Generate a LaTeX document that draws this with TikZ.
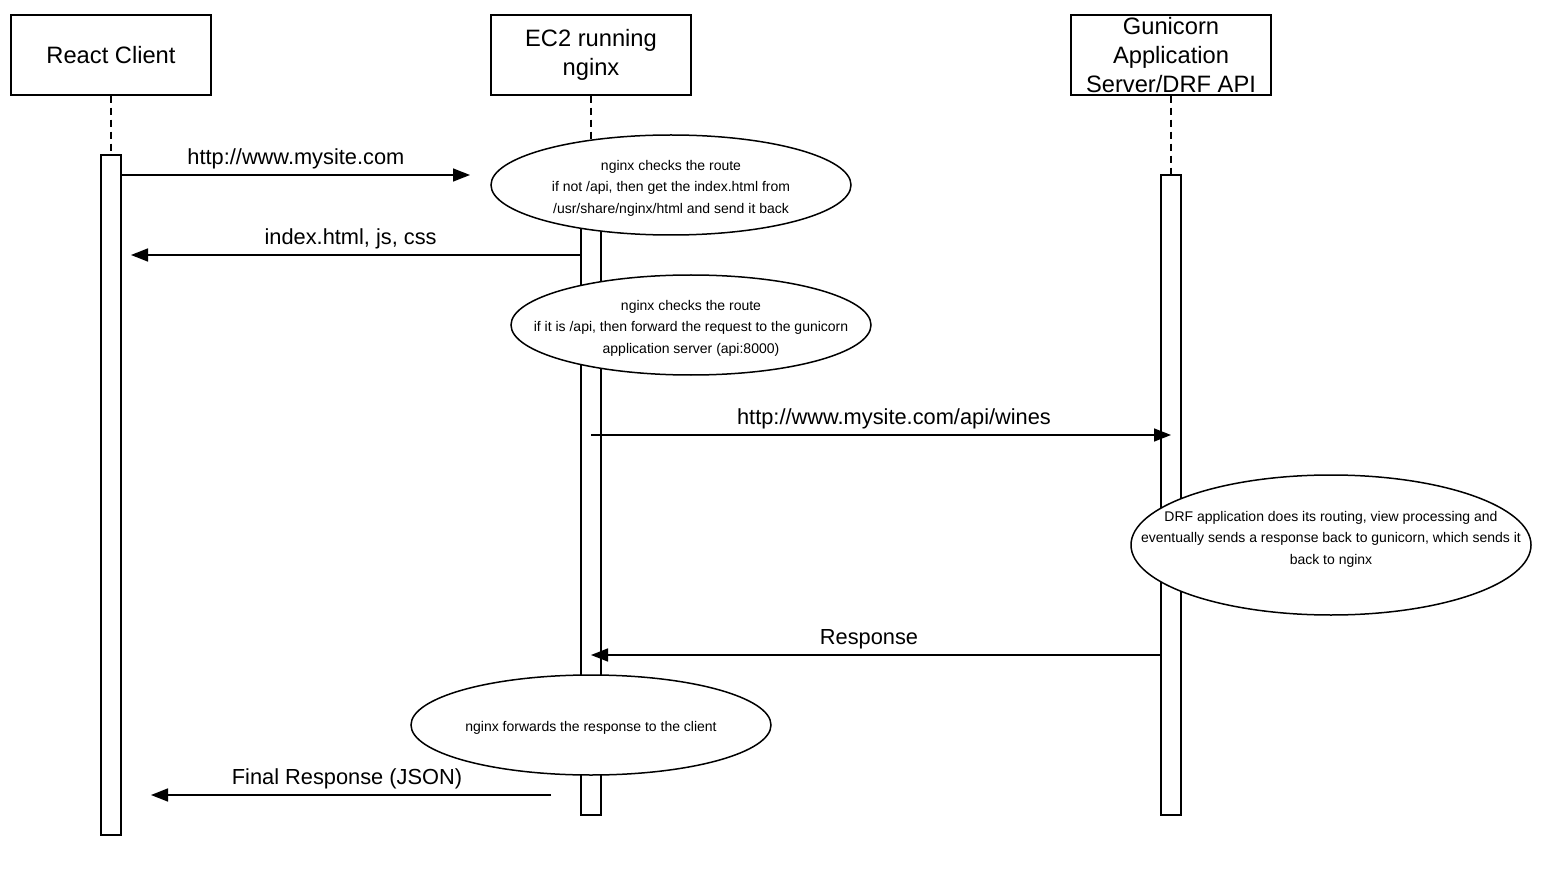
\documentclass[tikz,border=0pt]{standalone}
\usepackage{fontspec}
\setmainfont{Liberation Sans}
\usetikzlibrary{positioning,shapes.geometric,arrows.meta}

\begin{document}
\begin{tikzpicture}[x=1pt,y=-1pt,
    actor/.style={draw,line width=1.5pt,minimum width=200pt,minimum height=80pt,inner sep=0pt,align=center,font=\fontsize{23.7}{29}\selectfont},
    bar/.style={draw,fill=white,line width=1.5pt,minimum width=20pt,inner sep=0pt},
    lifeline/.style={line width=1.5pt,dash pattern=on 7pt off 5pt},
    note/.style={ellipse,draw,fill=white,line width=1.5pt,inner sep=0pt},
    notetext/.style={align=center,inner sep=0pt,yshift=-3pt,font=\fontsize{14}{21.5}\selectfont},
    msg/.style={-{Triangle[length=17pt,width=13pt]},line width=1.5pt},
    msglabel/.style={above=2pt,font=\fontsize{21.8}{26}\selectfont}]
  \useasboundingbox (0,0) rectangle (1568,882);

  % actors
  \node[actor] (client) at (111,55) {React Client};
  \node[actor] (nginx) at (591,55) {EC2 running\\nginx};
  \node[actor] (api) at (1171,55) {Gunicorn\\Application\\Server/DRF API};

  % lifelines and activation bars
  \node[bar,minimum height=680pt] (clientbar) at (111,495) {};
  \node[bar,minimum height=640pt] (nginxbar) at (591,495) {};
  \node[bar,minimum height=640pt] (apibar) at (1171,495) {};
  \draw[lifeline] (client) -- (clientbar);
  \draw[lifeline] (nginx) -- (nginxbar);
  \draw[lifeline] (api) -- (apibar);

  % messages
  \coordinate (req) at (470,175);
  \draw[msg] (clientbar.east |- req) -- node[msglabel]{http://www.mysite.com} (req);
  \coordinate (page) at (131,255);
  \draw[msg] (nginxbar.west |- page) -- node[msglabel,xshift=-5pt]{index.html, js, css} (page);
  \coordinate (fwd) at (591,435);
  \draw[msg] (fwd) -- node[msglabel,xshift=13pt]{http://www.mysite.com/api/wines} (apibar.center |- fwd);
  \coordinate (resp) at (1161,655);
  \draw[msg] (resp) -- node[msglabel,xshift=-7pt]{Response} (nginxbar.center |- resp);
  \coordinate (finalstart) at (551,795);
  \coordinate (finalend) at (151,795);
  \draw[msg] (finalstart) -- node[msglabel,xshift=-4pt]{Final Response (JSON)} (finalend);

  % notes
  \node[note,minimum width=360pt,minimum height=100pt] (route1) at (671,185) {};
  \node[notetext] at (route1) {nginx checks the route\\if not /api, then get the index.html from\\/usr/share/nginx/html and send it back};
  \node[note,minimum width=360pt,minimum height=100pt] (route2) at (691,325) {};
  \node[notetext] at (route2) {nginx checks the route\\if it is /api, then forward the request to the gunicorn\\application server (api:8000)};
  \node[note,minimum width=400pt,minimum height=140pt] (drf) at (1331,545) {};
  \node[notetext,yshift=9pt] at (drf) {DRF application does its routing, view processing and\\eventually sends a response back to gunicorn, which sends it\\back to nginx};
  \node[note,minimum width=360pt,minimum height=100pt] (reply) at (591,725) {};
  \node[notetext] at (reply) {nginx forwards the response to the client};
\end{tikzpicture}
\end{document}
